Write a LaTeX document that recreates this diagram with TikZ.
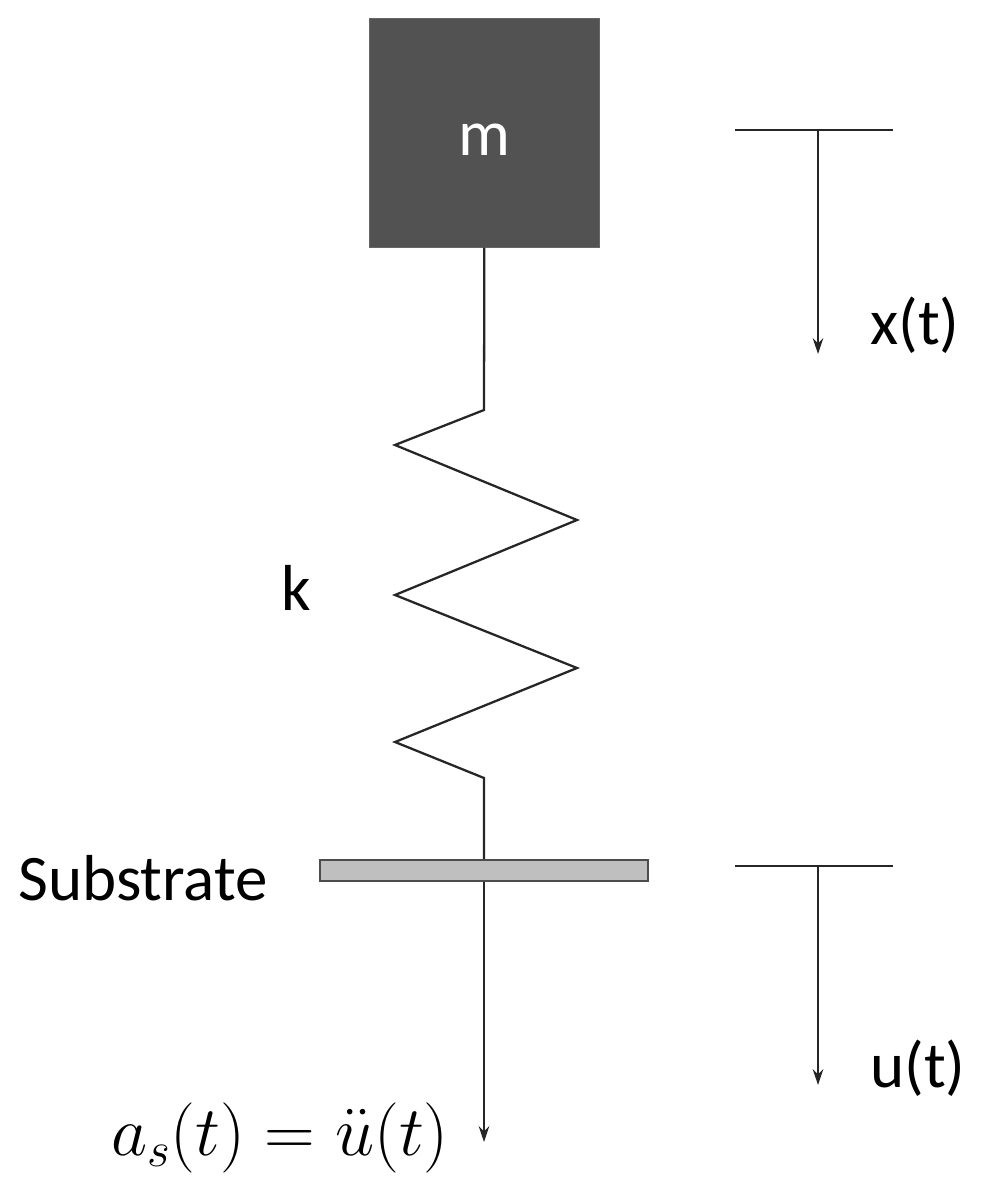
\documentclass[tikz,border=0pt]{standalone}
\usepackage{fix-cm}
\usepackage{fontspec}
\setmainfont{Carlito}
\usetikzlibrary{arrows.meta}
\begin{document}
\begin{tikzpicture}[x=0.02cm,y=-0.02cm,
  lbl/.style={font=\fontsize{37}{40}\selectfont},
  ln/.style={line width=1.3pt,black!85},
  arr/.style={ln,-{Stealth[length=9pt,width=6pt]}}]
\useasboundingbox (0,0) rectangle (999,1195);
\node[draw=black!60,fill=black!68,minimum width=4.6cm,minimum height=4.58cm,inner sep=0,anchor=north west] (m) at (369,18) {};
\node[lbl,text=white] (ml) at (484,140) {m};
\coordinate (s0) at (484,410);
\coordinate (s7) at (484,778);
\node[draw=black!70,fill=black!25,line width=1.2pt,minimum width=6.56cm,minimum height=0.42cm,inner sep=0] (sub) at (484,870.5) {};
\draw[ln] (m.south) -- (s0) -- (395,445) -- (577,520) -- (395,595) -- (577,668) -- (395,742) -- (s7) -- (sub.north);
\node[lbl] (k) at (296,588) {k};
\node[lbl] (subl) at (143,878) {Substrate};
\coordinate (a1) at (484,1142);
\draw[arr] (sub.south) -- (a1);
\node[font=\fontsize{40}{44}\selectfont,inner sep=0] (al) at (280,1138) {$a_s(t)=\ddot{u}(t)$};
\coordinate (t1l) at (735,130); \coordinate (t1r) at (893,130);
\coordinate (t1m) at (818,130); \coordinate (t1e) at (818,354);
\draw[ln] (t1l) -- (t1r);
\draw[arr] (t1m) -- (t1e);
\node[lbl] (xl) at (915,325) {x(t)};
\coordinate (t2l) at (735,866); \coordinate (t2r) at (893,866);
\coordinate (t2m) at (818,866); \coordinate (t2e) at (818,1085);
\draw[ln] (t2l) -- (t2r);
\draw[arr] (t2m) -- (t2e);
\node[lbl] (ul) at (918,1068) {u(t)};
\end{tikzpicture}
\end{document}
